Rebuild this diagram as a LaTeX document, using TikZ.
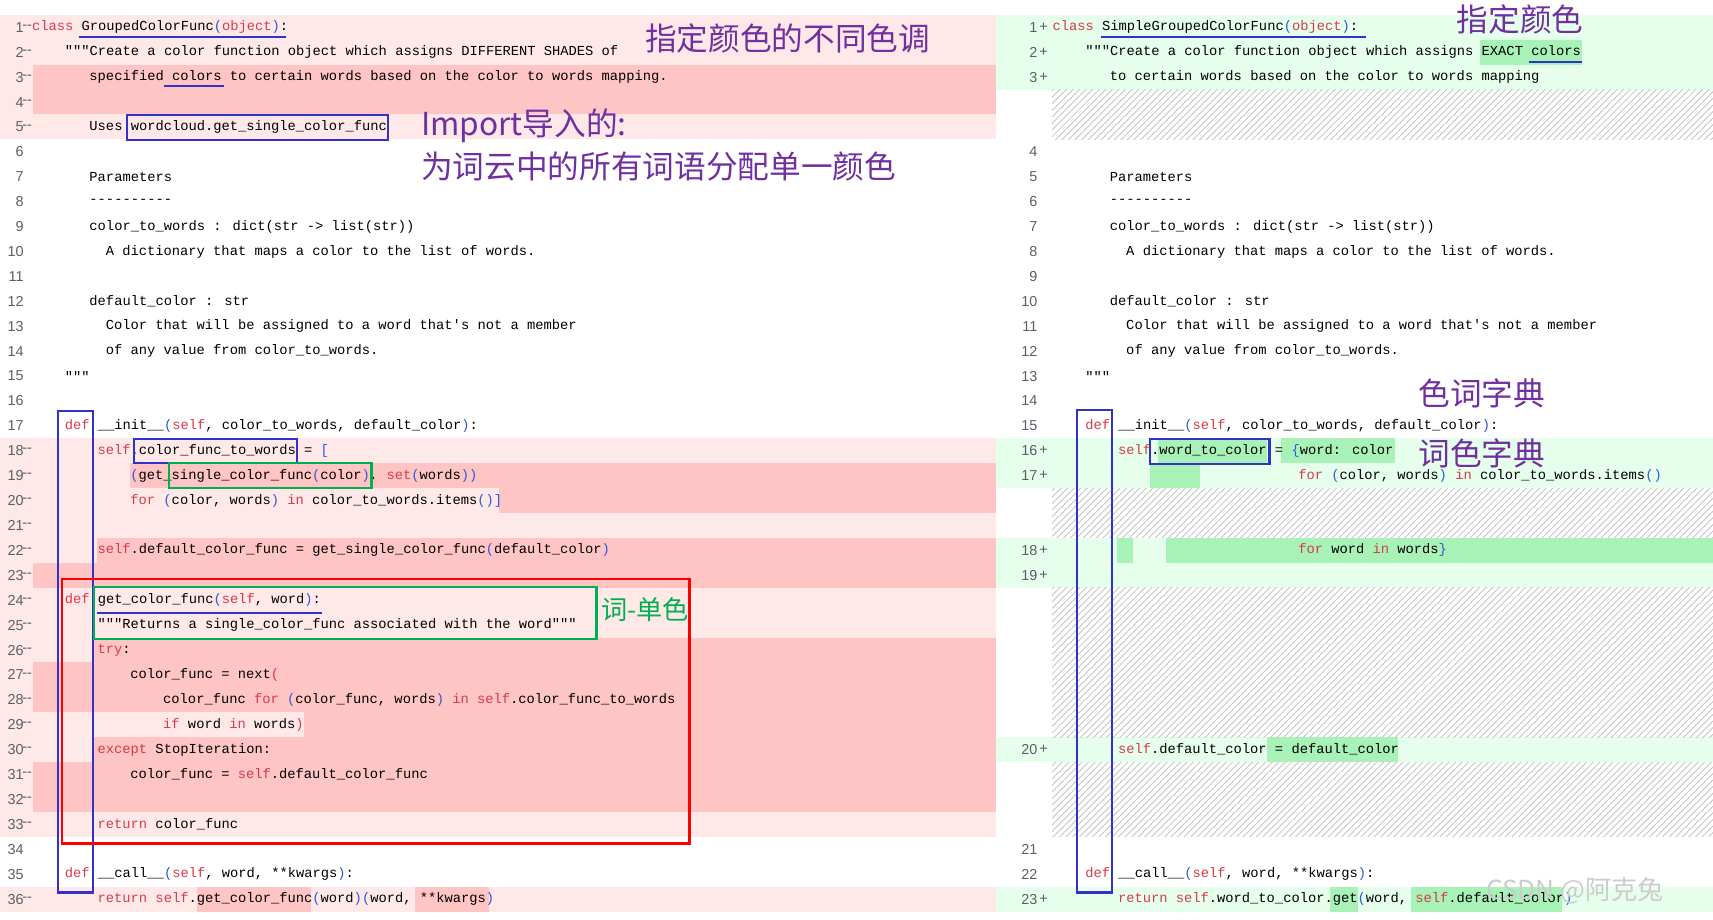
\documentclass[tikz,border=0pt]{standalone}
\usepackage{fontspec}
\usepackage{xcolor}
\usetikzlibrary{patterns}
\newfontfamily\codefont{Liberation Mono}
\newfontfamily\cjk{Noto Sans CJK SC}
\newfontfamily\numfont{Liberation Sans}
\definecolor{kwred}{RGB}{215,58,73}
\definecolor{pnblue}{RGB}{40,90,220}
\definecolor{dellight}{RGB}{255,232,232}
\definecolor{deldark}{RGB}{255,196,196}
\definecolor{addlight}{RGB}{230,255,236}
\definecolor{adddark}{RGB}{168,242,184}
\definecolor{notepurple}{RGB}{112,48,160}
\definecolor{notegreen}{RGB}{0,176,80}
\definecolor{boxblue}{RGB}{50,50,200}
\definecolor{lnogray}{RGB}{90,96,104}
\newcommand\kw[1]{\textcolor{kwred}{#1}}
\newcommand\pn[1]{\textcolor{pnblue}{#1}}
% code line: x origin, column, row, text
\newcommand\codeln[4]{\node[code] at ({#1+#2*7.5},{25+(#3-1)*22.8}) {#4};}
\newcommand\rowbg[4]{\fill[#1] (#2,{25+(#4-1)*22.8-11.4}) rectangle (#3,{25+(#4-1)*22.8+11.4});}
\newcommand\hatch[2]{\fill[white] (963,{25+(#1-1)*22.8-11.4}) rectangle (1568,{25+(#2-1)*22.8+11.4});
  \fill[pattern=north east lines, pattern color=gray!45] (963,{25+(#1-1)*22.8-11.4}) rectangle (1568,{25+(#2-1)*22.8+11.4});}
\begin{document}
\begin{tikzpicture}[x=0.5pt, y=-0.5pt,
    code/.style={anchor=west, inner sep=0pt, font=\codefont\fontsize{6.3}{7}\selectfont},
    lno/.style={anchor=east, inner sep=0pt, font=\numfont\fontsize{6.6}{7}\selectfont, text=lnogray},
    note/.style={anchor=west, inner sep=0pt, text=notepurple, font=\cjk\fontsize{14.5}{16}\selectfont},
    bmark/.style={draw=boxblue, line width=1pt},
    gbox/.style={draw=notegreen, line width=1pt},
    rbox/.style={draw=red, line width=1.1pt}
]
\useasboundingbox (0,0) rectangle (1568,842);
\fill[white] (0,0) rectangle (1568,842);

% left panel backgrounds (deleted lines)
\foreach \r in {1,...,5,18,19,...,33,36} {\rowbg{dellight}{0}{912}{\r}}
\foreach \r in {3,4,23,27,28,31,32} {\rowbg{deldark}{30}{912}{\r}}
\rowbg{deldark}{119}{912}{19}
\rowbg{deldark}{457}{912}{20}
\rowbg{deldark}{89}{912}{22}
\rowbg{deldark}{86}{912}{26}
\rowbg{deldark}{278}{912}{29}
\rowbg{deldark}{86}{912}{30}
\rowbg{deldark}{180}{285}{36}
\rowbg{deldark}{380}{448}{36}

% right panel backgrounds (added lines)
\foreach \r in {1,2,3,18,19,22,23,30,36} {\rowbg{addlight}{912}{1568}{\r}}
\rowbg{adddark}{1355}{1448}{2}
\rowbg{adddark}{1060}{1160}{18}
\rowbg{adddark}{1173}{1277}{18}
\rowbg{adddark}{1053}{1098}{19}
\rowbg{adddark}{1022}{1037}{22}
\rowbg{adddark}{1067}{1568}{22}
\rowbg{adddark}{1160}{1280}{30}
\rowbg{adddark}{1217}{1243}{36}
\rowbg{adddark}{1292}{1430}{36}
\hatch{4}{5}
\hatch{20}{21}
\hatch{24}{29}
\hatch{31}{33}

% line numbers
\foreach \n in {1,...,36} {\node[lno] at (22,{25+(\n-1)*22.8}) {\n};}
\foreach \n in {1,...,5,18,19,...,33,36} {\node[lno, anchor=west] at (20,{25+(\n-1)*22.8}) {--};}
\foreach \n/\r in {1/1,2/2,3/3,4/6,5/7,6/8,7/9,8/10,9/11,10/12,11/13,12/14,13/15,14/16,15/17,16/18,17/19,18/22,19/23,20/30,21/34,22/35,23/36}
  {\node[lno] at (950,{25+(\r-1)*22.8}) {\n};}
\foreach \r in {1,2,3,18,19,22,23,30,36} {\node[lno, anchor=west] at (951,{25+(\r-1)*22.8}) {+};}

% left code
\codeln{29}{0}{1}{\kw{class} GroupedColorFunc\pn{(}\kw{object}\pn{)}:}
\codeln{29}{4}{2}{"""Create a color function object which assigns DIFFERENT SHADES of}
\codeln{29}{7}{3}{specified colors to certain words based on the color to words mapping.}
\codeln{29}{7}{5}{Uses wordcloud.get\_single\_color\_func}
\codeln{29}{7}{7}{Parameters}
\codeln{29}{7}{8}{----------}
\codeln{29}{7}{9}{color\_to\_words : dict(str -> list(str))}
\codeln{29}{9}{10}{A dictionary that maps a color to the list of words.}
\codeln{29}{7}{12}{default\_color : str}
\codeln{29}{9}{13}{Color that will be assigned to a word that's not a member}
\codeln{29}{9}{14}{of any value from color\_to\_words.}
\codeln{29}{4}{15}{"""}
\codeln{29}{4}{17}{\kw{def} \_\_init\_\_\pn{(}\kw{self}, color\_to\_words, default\_color\pn{)}:}
\codeln{29}{8}{18}{\kw{self}.color\_func\_to\_words = \pn{[}}
\codeln{29}{12}{19}{\pn{(}get\_single\_color\_func\pn{(}color\pn{)}, \kw{set}\pn{(}words\pn{))}}
\codeln{29}{12}{20}{\kw{for} \pn{(}color, words\pn{)} \kw{in} color\_to\_words.items\pn{()]}}
\codeln{29}{8}{22}{\kw{self}.default\_color\_func = get\_single\_color\_func\pn{(}default\_color\pn{)}}
\codeln{29}{4}{24}{\kw{def} get\_color\_func\pn{(}\kw{self}, word\pn{)}:}
\codeln{29}{8}{25}{"""Returns a single\_color\_func associated with the word"""}
\codeln{29}{8}{26}{\kw{try}:}
\codeln{29}{12}{27}{color\_func = next\kw{(}}
\codeln{29}{16}{28}{color\_func \kw{for} \pn{(}color\_func, words\pn{)} \kw{in} \kw{self}.color\_func\_to\_words}
\codeln{29}{16}{29}{\kw{if} word \kw{in} words\kw{)}}
\codeln{29}{8}{30}{\kw{except} StopIteration:}
\codeln{29}{12}{31}{color\_func = \kw{self}.default\_color\_func}
\codeln{29}{8}{33}{\kw{return} color\_func}
\codeln{29}{4}{35}{\kw{def} \_\_call\_\_\pn{(}\kw{self}, word, **kwargs\pn{)}:}
\codeln{29}{8}{36}{\kw{return} \kw{self}.get\_color\_func\pn{(}word\pn{)(}word, **kwargs\pn{)}}

% right code
\codeln{963}{0}{1}{\kw{class} SimpleGroupedColorFunc\pn{(}\kw{object}\pn{)}:}
\codeln{963}{4}{2}{"""Create a color function object which assigns EXACT colors}
\codeln{963}{7}{3}{to certain words based on the color to words mapping}
\codeln{963}{7}{7}{Parameters}
\codeln{963}{7}{8}{----------}
\codeln{963}{7}{9}{color\_to\_words : dict(str -> list(str))}
\codeln{963}{9}{10}{A dictionary that maps a color to the list of words.}
\codeln{963}{7}{12}{default\_color : str}
\codeln{963}{9}{13}{Color that will be assigned to a word that's not a member}
\codeln{963}{9}{14}{of any value from color\_to\_words.}
\codeln{963}{4}{15}{"""}
\codeln{963}{4}{17}{\kw{def} \_\_init\_\_\pn{(}\kw{self}, color\_to\_words, default\_color\pn{)}:}
\codeln{963}{8}{18}{\kw{self}.word\_to\_color = \pn{\{}word: color}
\codeln{963}{30}{19}{\kw{for} \pn{(}color, words\pn{)} \kw{in} color\_to\_words.items\pn{()}}
\codeln{963}{30}{22}{\kw{for} word \kw{in} words\pn{\}}}
\codeln{963}{8}{30}{\kw{self}.default\_color = default\_color}
\codeln{963}{4}{35}{\kw{def} \_\_call\_\_\pn{(}\kw{self}, word, **kwargs\pn{)}:}
\codeln{963}{8}{36}{\kw{return} \kw{self}.word\_to\_color.get\pn{(}word, \kw{self}.default\_color\pn{)}}

% marks on the left
\draw[bmark] (72,34) -- (262,34);
\draw[bmark] (150,79) -- (205,79);
\draw[bmark] (116,105) rectangle (355,128);
\draw[bmark] (53,376) rectangle (85,817);
\draw[bmark] (123,402) rectangle (272,424);
\draw[gbox] (155,424) rectangle (340,447);
\draw[rbox] (57,530) rectangle (631,772);
\draw[gbox] (86,537) rectangle (546,585);
\draw[bmark] (89,561) -- (295,561);

% marks on the right
\draw[bmark] (1008,34) -- (1250,34);
\draw[bmark] (1400,57) -- (1448,57);
\draw[bmark] (986,375) rectangle (1018,817);
\draw[bmark] (1053,402) rectangle (1162,425);

% notes
\node[note] (shades) at (590,35) {指定颜色的不同色调};
\node[note] (import) at (385,115) {Import导入的:};
\node[note] (single) at (385,152) {为词云中的所有词语分配单一颜色};
\node[note] (exact) at (1333,18) {指定颜色};
\node[note] (cwdict) at (1298,360) {色词字典};
\node[note] (wcdict) at (1298,415) {词色字典};
\node[note, text=notegreen, font=\cjk\fontsize{12}{14}\selectfont] (wordcol) at (550,558) {词-单色};
\node[note, text=gray!40, font=\cjk\fontsize{12}{14}\selectfont] (wmark) at (1360,815) {CSDN @阿克兔};
\end{tikzpicture}
\end{document}
